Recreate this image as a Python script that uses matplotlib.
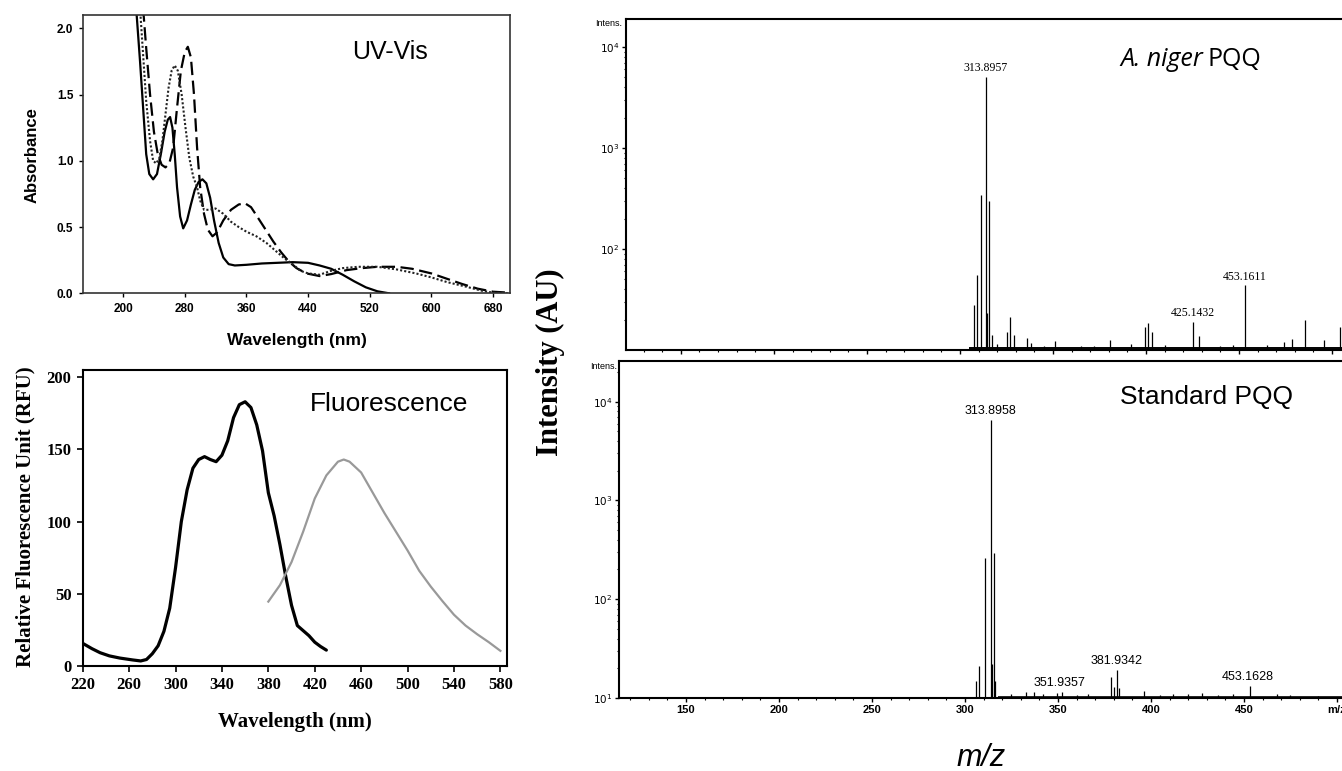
#!/usr/bin/env python3
"""
Composite figure: UV-Vis and fluorescence spectra (left) and
log-scale mass spectra of A. niger PQQ vs. standard PQQ (right).
"""

import numpy as np
import matplotlib.pyplot as plt
from matplotlib.ticker import MultipleLocator, FixedLocator, LogLocator, NullFormatter

W, H = 1342, 771

# ---------------- data ----------------
# UV-Vis absorbance (three samples)
uv_solid_wl = [217, 222, 226, 230, 234, 239, 244, 249, 254, 258, 261, 264, 267, 270, 274, 278,
               283, 288, 293, 298, 303, 308, 313, 318, 324, 330, 337, 345, 360, 380, 400, 420,
               440, 455, 470, 485, 500, 515, 530, 545]
uv_solid_abs = [2.15, 1.75, 1.4, 1.05, 0.9, 0.86, 0.9, 1.05, 1.22, 1.31, 1.33, 1.25, 1.05, 0.8,
                0.58, 0.49, 0.55, 0.67, 0.78, 0.84, 0.86, 0.83, 0.72, 0.55, 0.38, 0.27, 0.22,
                0.21, 0.215, 0.225, 0.23, 0.235, 0.23, 0.21, 0.185, 0.14, 0.09, 0.045, 0.015, 0.0]

uv_dash_wl = [226, 230, 235, 240, 245, 250, 255, 260, 265, 270, 275, 280, 284, 288, 292, 296,
              300, 305, 310, 316, 322, 330, 340, 350, 358, 366, 375, 385, 395, 405, 415, 425,
              438, 455, 470, 490, 510, 530, 555, 575, 600, 620, 640, 660, 680, 700]
uv_dash_abs = [2.15, 1.85, 1.5, 1.22, 1.05, 0.97, 0.95, 0.98, 1.1, 1.4, 1.68, 1.82, 1.86, 1.78,
               1.5, 1.1, 0.8, 0.6, 0.48, 0.43, 0.46, 0.55, 0.63, 0.67, 0.68, 0.65, 0.57, 0.48,
               0.39, 0.31, 0.24, 0.19, 0.15, 0.13, 0.145, 0.175, 0.19, 0.2, 0.2, 0.185, 0.15,
               0.11, 0.07, 0.035, 0.012, 0.005]

uv_dot_wl = [222, 226, 230, 235, 239, 243, 247, 251, 255, 259, 263, 267, 271, 276, 281, 286,
             291, 296, 300, 305, 312, 320, 330, 340, 350, 360, 373, 386, 400, 410, 420, 430,
             440, 455, 470, 485, 505, 530, 555, 580, 600, 620, 645, 665, 680, 700]
uv_dot_abs = [2.15, 1.8, 1.45, 1.15, 1.0, 0.98, 1.02, 1.15, 1.35, 1.55, 1.68, 1.72, 1.68, 1.5,
              1.25, 1.02, 0.88, 0.8, 0.7, 0.63, 0.63, 0.64, 0.6, 0.54, 0.5, 0.465, 0.43, 0.38,
              0.31, 0.26, 0.22, 0.17, 0.15, 0.14, 0.17, 0.19, 0.2, 0.2, 0.18, 0.15, 0.12, 0.085,
              0.05, 0.02, 0.005, 0.0]

# Fluorescence: excitation (black) and emission (grey)
ex_wl = [220, 228, 235, 243, 252, 263, 270, 275, 280, 285, 290, 295, 300, 305, 310, 315, 320,
         325, 330, 335, 340, 345, 350, 355, 360, 365, 370, 375, 380, 385, 390, 395, 400, 405,
         410, 415, 420, 425, 430]
ex_rfu = [15.7, 12, 9.2, 7, 5.5, 4.2, 3.5, 4.5, 8.5, 14, 24, 40, 68, 100, 122, 137, 143, 145,
          143, 141.5, 146, 156, 172, 181, 183, 179, 167, 149, 120, 104, 84, 62, 42, 28, 24.5,
          21, 16.5, 13.5, 11]

em_wl = [380, 390, 400, 410, 420, 430, 440, 445, 450, 460, 470, 480, 490, 500, 510, 520, 530,
         540, 550, 560, 570, 580]
em_rfu = [44.6, 56, 72, 93, 116, 132, 141.5, 143, 141.5, 134, 120, 106, 93, 80, 66, 55, 45,
          35.5, 28, 22, 16.5, 10.5]

# Mass spectra (m/z, intensity)
top_mz = [307.6, 309.4, 311.5, 313.9, 314.4, 315.8, 317.0, 320.0, 325.2, 327.1, 329.1, 335.9,
          338.0, 345.0, 351.2, 365.0, 372.0, 380.7, 392.0, 399.5, 401.3, 403.1, 410.0, 425.1,
          428.2, 440.0, 447.0, 453.2, 465.0, 474.0, 478.4, 485.6, 495.4, 504.4]
top_int = [28, 55, 343, 5080, 23, 299, 14, 11.5, 15, 21, 14, 13, 11.8, 11, 12.2, 11, 11, 12.6,
           11.5, 17, 18.7, 15.1, 11.2, 19, 13.8, 11, 11.3, 43.6, 11.3, 12, 12.9, 20, 12.6, 17]
top_labels = ['313.8957', '425.1432', '453.1611']
top_label_mz = [313.9, 425.1, 453.2]
top_label_int = [5080, 19, 43.6]

bot_mz = [306.0, 307.8, 311.0, 313.9, 314.4, 315.5, 316.3, 325.0, 333.0, 337.0, 342.0, 349.5,
          352.0, 360.0, 366.0, 378.3, 380.0, 381.9, 383.0, 396.5, 405.0, 412.0, 420.0, 427.5,
          436.0, 444.0, 453.2, 468.0, 475.0, 490.0]
bot_int = [15, 21, 260, 6530, 22, 292, 15, 11, 11.5, 11.5, 11, 11.3, 11.6, 10.8, 11, 16.2, 13,
           19.2, 12.6, 11.8, 10.8, 11, 11, 11.3, 10.8, 11, 13.3, 11, 10.8, 10.6]
bot_labels = ['313.8958', '351.9357', '381.9342', '453.1628']
bot_label_mz = [313.9, 351.0, 381.5, 452.0]
bot_label_int = [6530, 11.5, 19.2, 13.3]


def px_rect(left, top, right, bottom):
    """Axes rectangle in figure fraction from pixel edges."""
    return [left / W, 1 - bottom / H, (right - left) / W, (bottom - top) / H]


SANS = ['Liberation Sans', 'DejaVu Sans']
SERIF = ['Liberation Serif', 'DejaVu Serif']
NARROW = ['Liberation Sans Narrow', 'Liberation Sans', 'DejaVu Sans']

fig = plt.figure(figsize=(W / 100, H / 100), dpi=100)

# ---------------- UV-Vis ----------------
ax_uv = fig.add_axes(px_rect(83, 15, 510, 293.3))
ax_uv.plot(uv_solid_wl, uv_solid_abs, color='black', lw=1.6, ls='-')
ax_uv.plot(uv_dash_wl, uv_dash_abs, color='black', lw=1.6, ls=(0, (6, 2.5)))
ax_uv.plot(uv_dot_wl, uv_dot_abs, color='#222222', lw=1.5, ls=(0, (1, 1)))
ax_uv.set_xlim(148, 702)
ax_uv.set_ylim(0, 2.1)
ax_uv.xaxis.set_major_locator(FixedLocator(range(200, 700, 80)))
ax_uv.yaxis.set_major_locator(MultipleLocator(0.5))
ax_uv.yaxis.set_major_formatter(lambda v, p: f'{v:.1f}')
ax_uv.tick_params(direction='out', length=3, width=1, labelsize=8.5, pad=4)
for lab in ax_uv.get_xticklabels() + ax_uv.get_yticklabels():
    lab.set_fontfamily(SANS)
    lab.set_fontweight('bold')
for sp in ax_uv.spines.values():
    sp.set_linewidth(1.2)
    sp.set_color('#333333')
ax_uv.text(0.63, 0.867, 'UV-Vis', transform=ax_uv.transAxes, fontsize=18,
           family=SANS, ha='left', va='center')
fig.text(297 / W, 1 - 340 / H, 'Wavelength (nm)', fontsize=12.5, fontweight='bold',
         family=SANS, ha='center', va='center')
fig.text(31.7 / W, 1 - 155 / H, 'Absorbance', fontsize=12, fontweight='bold',
         family=SANS, ha='center', va='center', rotation=90)

# ---------------- Fluorescence ----------------
ax_fl = fig.add_axes(px_rect(82.7, 370, 507, 666))
ax_fl.plot(ex_wl, ex_rfu, color='black', lw=2.3, solid_capstyle='round')
ax_fl.plot(em_wl, em_rfu, color='#999999', lw=1.6)
ax_fl.set_xlim(220, 585.7)
ax_fl.set_ylim(0, 205)
ax_fl.xaxis.set_major_locator(FixedLocator(range(220, 600, 40)))
ax_fl.yaxis.set_major_locator(MultipleLocator(50))
ax_fl.tick_params(direction='out', length=4, width=1.2, labelsize=12, pad=4)
for lab in ax_fl.get_xticklabels() + ax_fl.get_yticklabels():
    lab.set_fontfamily(SERIF)
    lab.set_fontweight('bold')
for sp in ax_fl.spines.values():
    sp.set_linewidth(1.5)
ax_fl.text(0.536, 0.885, 'Fluorescence', transform=ax_fl.transAxes, fontsize=19,
           family=SANS, ha='left', va='center')
fig.text(295 / W, 1 - 721.7 / H, 'Wavelength (nm)', fontsize=15, fontweight='bold',
         family=SERIF, ha='center', va='center')
fig.text(25 / W, 1 - 517 / H, 'Relative Fluorescence Unit (RFU)', fontsize=15,
         fontweight='bold', family=SERIF, ha='center', va='center', rotation=90)


# ---------------- Mass spectra ----------------
def style_ms(ax, ylim_top, show_xlabels):
    ax.set_yscale('log')
    ax.set_ylim(10, ylim_top)
    ax.yaxis.set_major_locator(FixedLocator([1e2, 1e3, 1e4] if not show_xlabels
                                            else [1e1, 1e2, 1e3, 1e4]))
    ax.yaxis.set_minor_locator(LogLocator(base=10, subs=np.arange(2, 10)))
    ax.yaxis.set_minor_formatter(NullFormatter())
    ax.xaxis.set_major_locator(FixedLocator(range(150, 550, 50)))
    ax.xaxis.set_minor_locator(MultipleLocator(10))
    ax.tick_params(which='major', direction='out', length=3, width=1, labelsize=7.5, pad=2)
    ax.tick_params(which='minor', direction='out', length=1.5, width=0.8)
    if show_xlabels:
        ax.set_xticklabels(['150', '200', '250', '300', '350', '400', '450', 'm/z'])
        for lab in ax.get_xticklabels():
            lab.set_fontfamily(SANS)
            lab.set_fontweight('bold')
            lab.set_fontsize(8)
    else:
        ax.tick_params(axis='x', labelbottom=False)
    for sp in ax.spines.values():
        sp.set_linewidth(1.5)


ax_t = fig.add_axes(px_rect(626, 19, 1360, 350))
ax_t.vlines(top_mz, 10, top_int, color='black', lw=0.9)
ax_t.hlines(10.35, 305, 520, color='black', lw=1.4)
ax_t.set_xlim(120.5, 515)
style_ms(ax_t, 18900, False)
for txt, mz, inten in zip(top_labels, top_label_mz, top_label_int):
    ax_t.annotate(txt, (mz, inten), xytext=(0, 2), textcoords='offset points',
                  ha='center', va='bottom', fontsize=8.5, family=SERIF)
fig.text(1203 / W, 1 - 60 / H, 'A. niger', fontsize=18, style='italic',
         family=['Open Sans', 'Lato', 'DejaVu Sans'], ha='right', va='center')
fig.text(1207 / W, 1 - 60 / H, 'PQQ', fontsize=18,
         family=['Open Sans', 'Lato', 'DejaVu Sans'], ha='left', va='center')
fig.text(622 / W, 1 - 23 / H, 'Intens.', fontsize=6.5, family=SANS,
         ha='right', va='center')

ax_b = fig.add_axes(px_rect(619, 361, 1360, 698))
ax_b.vlines(bot_mz, 10, bot_int, color='black', lw=0.9)
ax_b.hlines(10.3, 318, 520, color='black', lw=1.2)
ax_b.set_xlim(114, 512.4)
style_ms(ax_b, 25800, True)
for txt, mz, inten in zip(bot_labels, bot_label_mz, bot_label_int):
    ax_b.annotate(txt, (mz, inten), xytext=(0, 2), textcoords='offset points',
                  ha='center', va='bottom', fontsize=9, family=NARROW)
fig.text(1120 / W, 1 - 397 / H, 'Standard PQQ', fontsize=19,
         family=NARROW, ha='left', va='center')
fig.text(617 / W, 1 - 366.5 / H, 'Intens.', fontsize=6.5, family=SANS,
         ha='right', va='center')

fig.text(550 / W, 1 - 362 / H, 'Intensity (AU)', fontsize=22, fontweight='bold',
         family=SERIF, ha='center', va='center', rotation=90)
fig.text(981 / W, 1 - 758 / H, 'm/z', fontsize=22, style='italic',
         family=SANS, ha='center', va='center')

fig.savefig('out.png', dpi=100)
